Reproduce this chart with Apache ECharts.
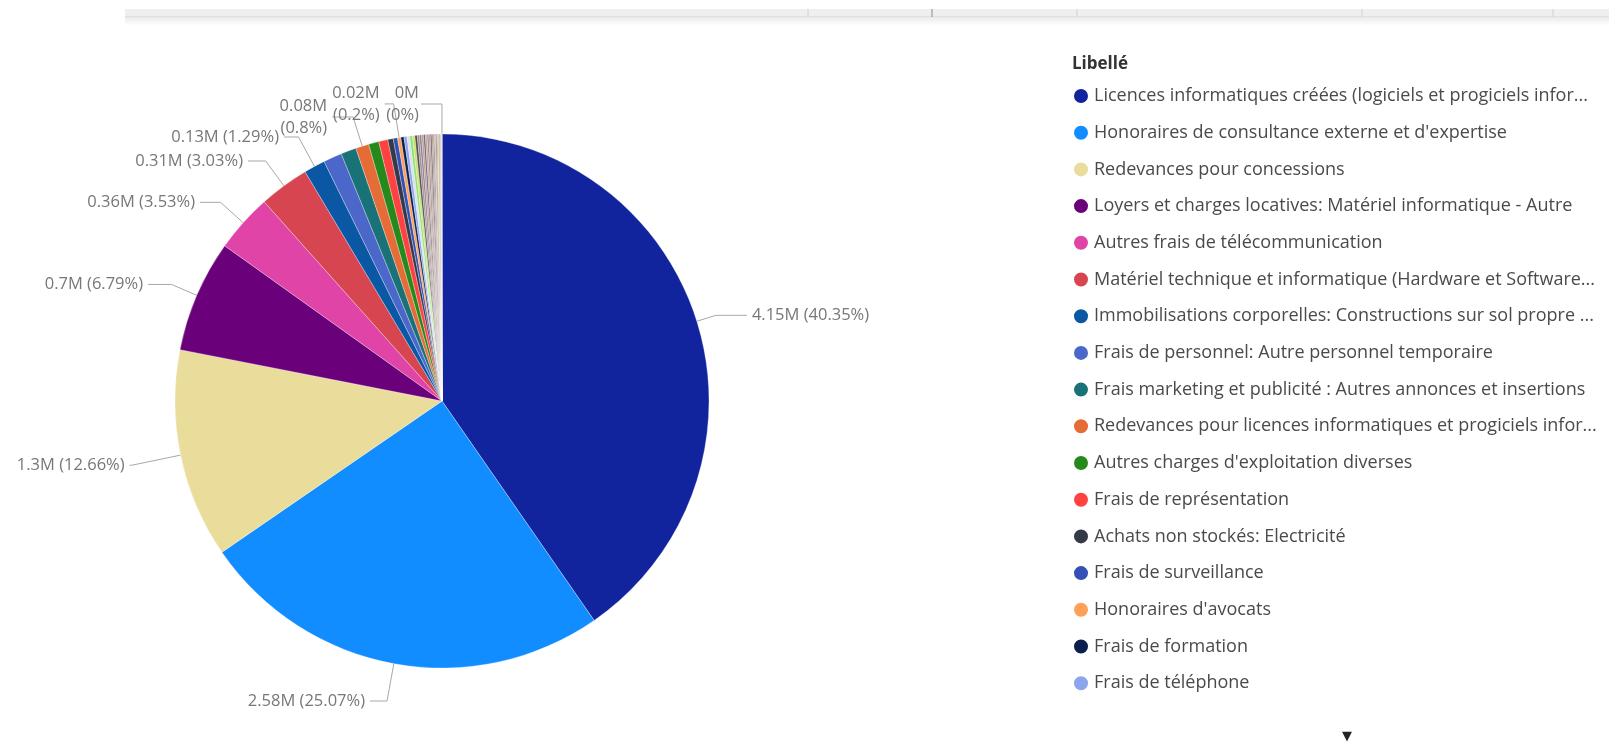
<!DOCTYPE html>
<html>
<head>
<meta charset="utf-8">
<title>Répartition par libellé</title>
<script src="https://cdn.jsdelivr.net/npm/echarts@6/dist/echarts.min.js"></script>
<style>
  html, body { margin: 0; padding: 0; background: #ffffff; }
  #chart { width: 1609px; height: 753px; }
</style>
</head>
<body>
<div id="chart"></div>
<script>
// Account labels listed in the legend (descending by amount)
const categories = [
  "Licences informatiques créées (logiciels et progiciels infor...",
  "Honoraires de consultance externe et d'expertise",
  "Redevances pour concessions",
  "Loyers et charges locatives: Matériel informatique - Autre",
  "Autres frais de télécommunication",
  "Matériel technique et informatique (Hardware et Software...",
  "Immobilisations corporelles: Constructions sur sol propre ...",
  "Frais de personnel: Autre personnel temporaire",
  "Frais marketing et publicité : Autres annonces et insertions",
  "Redevances pour licences informatiques et progiciels infor...",
  "Autres charges d'exploitation diverses",
  "Frais de représentation",
  "Achats non stockés: Electricité",
  "Frais de surveillance",
  "Honoraires d'avocats",
  "Frais de formation",
  "Frais de téléphone"
];

// Amounts (EUR) for the accounts above
const amounts = [
  4150000, 2578500, 1302100, 698400, 363100, 311600, 132700, 115200,
  95700, 82300, 63800, 56600, 33900, 26700, 20600, 19500, 18500
];

// Smaller accounts further down the scrolled legend
const otherAmounts = [
  17200, 16400, 15300, 14500, 13600, 12800, 12100, 11500, 10900, 10200,
  9600, 9100, 8500, 7900, 7300, 6600, 5900, 5500, 5100, 4400,
  3700, 2900, 2100, 1400, 900, 400
];

// Slice colours
const palette = [
  '#12239E', '#118DFF', '#EADC9B', '#6B007B', '#E044A7', '#D64550',
  '#0A57A4', '#4A67C9', '#197278', '#E66C37', '#25891C', '#FF4141',
  '#353A48', '#3550B5', '#FFA058', '#0B1F4D', '#8BA6EE'
];
const otherPalette = [
  '#DCE0EC', '#8DE26E', '#C9E36A', '#4D4A52', '#A38C86', '#8A7C94',
  '#B59C8C', '#6E6275', '#C2A28C', '#957C8E', '#B39486', '#5F5868',
  '#A68D7B', '#8F7880', '#C7AE94', '#7A6C7C', '#A88F88', '#E3CB55',
  '#9B8070', '#6B5E6A', '#B8A090', '#8C7A86', '#A48877', '#776874',
  '#C9A66B', '#9E7E6C'
];

const allAmounts = amounts.concat(otherAmounts);
const allNames = categories.concat(otherAmounts.map(() => ''));
const allColors = palette.concat(otherPalette);
const total = allAmounts.reduce((s, v) => s + v, 0);

const FONT = "'Segoe UI', 'Open Sans', sans-serif";

function fmtMillions(v) {
  return parseFloat((v / 1e6).toFixed(2)) + 'M';
}
function fmtPercent(v) {
  return parseFloat((v / total * 100).toFixed(2)) + '%';
}

// Leader-line geometry per labelled slice:
// radial length, horizontal length, gap to text, optional two-line wrap
const labelLines = {
  0:  { length: 20,   length2: 31,   gap: 5 },
  1:  { length: 38,   length2: 17,   gap: 5 },
  2:  { length: 50,   length2: 2,    gap: 5 },
  3:  { length: 27.5, length2: 23.5, gap: 5 },
  4:  { length: 30.5, length2: 20.5, gap: 5 },
  5:  { length: 30.8, length2: 17.7, gap: 5 },
  6:  { length: 33.5, length2: 14.5, gap: 5 },
  9:  { length: 30.6, length2: 21,   gap: 5, wrap: true },
  14: { length: 34,   length2: 9,    gap: 5, wrap: true },
  42: { length: 30,   length2: 21,   gap: 2, wrap: true }
};

const seriesData = allAmounts.map((v, i) => {
  const item = {
    name: allNames[i],
    value: v,
    itemStyle: { color: allColors[i] }
  };
  const cfg = labelLines[i];
  if (cfg) {
    const txt = cfg.wrap
      ? fmtMillions(v) + '\n(' + fmtPercent(v) + ')'
      : fmtMillions(v) + ' (' + fmtPercent(v) + ')';
    item.label = {
      show: true,
      formatter: txt,
      distanceToLabelLine: cfg.gap,
      lineHeight: cfg.wrap ? 22 : 19
    };
    item.labelLine = { show: true, length: cfg.length, length2: cfg.length2 };
  }
  return item;
});

const chart = echarts.init(document.getElementById('chart'), null, { renderer: 'canvas' });

chart.setOption({
  backgroundColor: '#ffffff',
  animation: false,
  legend: {
    orient: 'vertical',
    left: 1072,
    top: 86,
    padding: 0,
    data: categories,
    icon: 'circle',
    itemWidth: 16,
    itemHeight: 16,
    itemGap: 16.7,
    selectedMode: false,
    textStyle: {
      fontFamily: FONT,
      fontSize: 18,
      lineHeight: 20,
      color: '#4a4a4a'
    }
  },
  graphic: [
    // header strip of the report page
    { type: 'rect', shape: { x: 125, y: 9, width: 1484, height: 8 }, style: { fill: '#efefef' }, silent: true },
    { type: 'line', shape: { x1: 125, y1: 17, x2: 1609, y2: 17 }, style: { stroke: '#d2d2d2', lineWidth: 1 }, silent: true },
    {
      type: 'rect', shape: { x: 125, y: 18, width: 1484, height: 8 }, silent: true,
      style: {
        fill: new echarts.graphic.LinearGradient(0, 0, 0, 1, [
          { offset: 0, color: 'rgba(0,0,0,0.07)' },
          { offset: 1, color: 'rgba(0,0,0,0)' }
        ])
      }
    },
    { type: 'line', shape: { x1: 808, y1: 9, x2: 808, y2: 17 }, style: { stroke: '#d0d0d0' }, silent: true },
    { type: 'line', shape: { x1: 932, y1: 9, x2: 932, y2: 17 }, style: { stroke: '#8a8a8a' }, silent: true },
    { type: 'line', shape: { x1: 1077, y1: 9, x2: 1077, y2: 17 }, style: { stroke: '#d0d0d0' }, silent: true },
    { type: 'line', shape: { x1: 1362, y1: 9, x2: 1362, y2: 17 }, style: { stroke: '#d0d0d0' }, silent: true },
    { type: 'line', shape: { x1: 1553, y1: 9, x2: 1553, y2: 17 }, style: { stroke: '#d0d0d0' }, silent: true },
    // legend title
    {
      type: 'text', x: 1072, y: 64, silent: true,
      style: {
        text: 'Libellé',
        font: 'bold 17px ' + FONT,
        fill: '#333333',
        verticalAlign: 'middle'
      }
    },
    // legend scroll indicator
    {
      type: 'text', x: 1347, y: 737, silent: true,
      style: {
        text: '▼',
        font: '13px DejaVu Sans',
        fill: '#252423',
        align: 'center',
        verticalAlign: 'middle'
      }
    }
  ],
  series: [{
    type: 'pie',
    center: [442, 401],
    radius: 267,
    startAngle: 90,
    clockwise: true,
    avoidLabelOverlap: false,
    labelLayout: { hideOverlap: false },
    emphasis: { disabled: true },
    itemStyle: { borderColor: '#ffffff', borderWidth: 0.3 },
    label: {
      show: false,
      position: 'outside',
      alignTo: 'none',
      color: '#777777',
      fontFamily: FONT,
      fontSize: 16.5
    },
    labelLine: {
      show: false,
      smooth: false,
      minTurnAngle: 0,
      maxSurfaceAngle: 180,
      lineStyle: { color: '#a8a8a8', width: 1 }
    },
    data: seriesData
  }]
});
</script>
</body>
</html>
